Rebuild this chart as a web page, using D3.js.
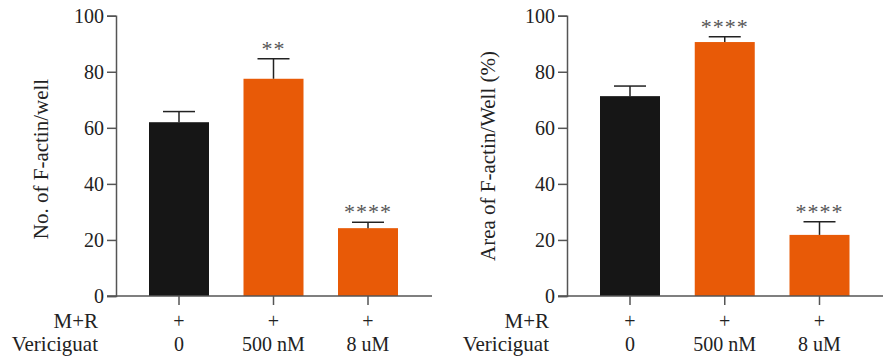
<!DOCTYPE html>
<html>
<head>
<meta charset="utf-8">
<script src="https://cdn.jsdelivr.net/npm/d3@7"></script>
<style>
  body { margin: 0; background: #fff; }
  svg text { font-family: "Liberation Serif", "DejaVu Serif", serif; font-size: 20px; fill: #222; }
</style>
</head>
<body>
<svg id="chart" width="886" height="364"></svg>
<script>
const groups = ['0', '500 nM', '8 uM']
const rowLabels = ['M+R', 'Vericiguat']
const yTicks = [0, 20, 40, 60, 80, 100]

const countMean = [62.0, 77.5, 24.2]
const countErr = [3.8, 7.1, 2.1]
const countStars = ['', '**', '****']

const areaMean = [71.3, 90.6, 21.8]
const areaErr = [3.6, 1.9, 4.7]
const areaStars = ['', '****', '****']

const barColors = ['#161616', '#e85a07', '#e85a07']

const svg = d3.select('#chart')
const axisColor = '#555'
const fs = '20px'

function drawPanel(opt) {
  let { axisX, firstX, lastX, endX, mean, err, stars, label, labelX } = opt
  let g = svg.append('g')
  let y = d3.scaleLinear().domain([0, 100]).range([296, 15.7])
  let x = d3.scalePoint().domain(groups).range([firstX, lastX])
  let barW = 60, capW = 32

  // bars
  g.selectAll('rect.bar')
    .data(mean)
    .join('rect')
    .attr('class', 'bar')
    .attr('x', (d, i) => x(groups[i]) - barW / 2)
    .attr('y', d => y(d))
    .attr('width', barW)
    .attr('height', d => y(0) - y(d))
    .attr('fill', (d, i) => barColors[i])

  // error bars (upper only)
  let eb = g.selectAll('g.err')
    .data(mean)
    .join('g')
    .attr('class', 'err')
  eb.append('line')
    .attr('x1', (d, i) => x(groups[i]))
    .attr('x2', (d, i) => x(groups[i]))
    .attr('y1', d => y(d))
    .attr('y2', (d, i) => y(d + err[i]))
    .attr('stroke', '#222')
    .attr('stroke-width', 1.5)
  eb.append('line')
    .attr('x1', (d, i) => x(groups[i]) - capW / 2)
    .attr('x2', (d, i) => x(groups[i]) + capW / 2)
    .attr('y1', (d, i) => y(d + err[i]))
    .attr('y2', (d, i) => y(d + err[i]))
    .attr('stroke', '#222')
    .attr('stroke-width', 1.5)

  // significance stars
  g.selectAll('text.star')
    .data(mean)
    .join('text')
    .attr('class', 'star')
    .attr('x', (d, i) => x(groups[i]))
    .attr('y', (d, i) => y(d + err[i]) - 3)
    .attr('text-anchor', 'middle')
    .style('fill', '#555')
    .style('font-size', '22px')
    .style('letter-spacing', '1px')
    .text((d, i) => stars[i])

  // y axis
  let yAxis = g.append('g')
    .attr('transform', `translate(${axisX},0)`)
    .call(d3.axisLeft(y).tickValues(yTicks).tickSize(9).tickPadding(3))
  yAxis.attr('font-size', null).attr('font-family', null)
  yAxis.select('.domain').attr('stroke', axisColor).attr('stroke-width', 1.5)
  yAxis.selectAll('.tick line').attr('stroke', axisColor).attr('stroke-width', 1.5)
  yAxis.selectAll('.tick text').style('font-size', fs).style('fill', '#222')

  // x axis line
  g.append('line')
    .attr('x1', axisX - 9)
    .attr('x2', endX)
    .attr('y1', y(0))
    .attr('y2', y(0))
    .attr('stroke', axisColor)
    .attr('stroke-width', 1.5)
  g.selectAll('line.xtick')
    .data(groups)
    .join('line')
    .attr('class', 'xtick')
    .attr('x1', d => x(d))
    .attr('x2', d => x(d))
    .attr('y1', y(0))
    .attr('y2', y(0) + 9)
    .attr('stroke', axisColor)
    .attr('stroke-width', 1.5)

  // row labels under axis
  g.selectAll('text.rowlab')
    .data(rowLabels)
    .join('text')
    .attr('class', 'rowlab')
    .attr('x', axisX - 18)
    .attr('y', (d, i) => 328 + i * 23)
    .attr('text-anchor', 'end')
    .style('font-size', '21px')
    .text(d => d)
  g.selectAll('text.plus')
    .data(groups)
    .join('text')
    .attr('class', 'plus')
    .attr('x', d => x(d))
    .attr('y', 328)
    .attr('text-anchor', 'middle')
    .text('+')
  g.selectAll('text.dose')
    .data(groups)
    .join('text')
    .attr('class', 'dose')
    .attr('x', d => x(d))
    .attr('y', 351)
    .attr('text-anchor', 'middle')
    .text(d => d)

  // y label
  g.append('text')
    .attr('transform', `translate(${labelX},${opt.labelY}) rotate(-90)`)
    .attr('text-anchor', 'middle')
    .attr('dy', '0.35em')
    .style('font-size', '21px')
    .text(label)
}

drawPanel({
  axisX: 116, firstX: 179, lastX: 368, endX: 432,
  mean: countMean, err: countErr, stars: countStars,
  label: 'No. of F-actin/well', labelX: 41, labelY: 159
})
drawPanel({
  axisX: 567, firstX: 630, lastX: 819.5, endX: 883,
  mean: areaMean, err: areaErr, stars: areaStars,
  label: 'Area of F-actin/Well (%)', labelX: 488, labelY: 156
})
</script>
</body>
</html>
